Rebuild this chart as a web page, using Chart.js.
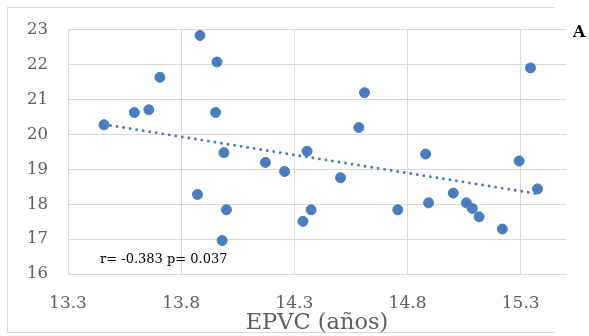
<!DOCTYPE html>
<html>
<head>
<meta charset="utf-8">
<script src="https://cdn.jsdelivr.net/npm/chart.js@4.4.0/dist/chart.umd.min.js"></script>
<style>
  html, body { margin: 0; padding: 0; background: #fff; }
  #wrap { position: relative; width: 589px; height: 336px; overflow: hidden; }
  #frame { position: absolute; left: 7px; top: 7px; width: 548px; height: 326px;
           border-top: 1px solid #d9d9d9; border-left: 1px solid #d9d9d9; border-bottom: 1px solid #d9d9d9;
           box-sizing: border-box; pointer-events: none; }
  canvas { position: absolute; left: 0; top: 0; }
</style>
</head>
<body>
<div id="wrap">
  <div id="frame"></div>
  <canvas id="c" width="589" height="336"></canvas>
</div>
<script>
// Data
const epvc = [13.459, 13.593, 13.657, 13.706, 13.883, 13.958, 13.952, 13.989, 14.172, 14.257,
              13.872, 14.000, 13.981, 14.338, 14.374, 14.504, 14.757, 14.893, 15.002, 15.060,
              15.086, 15.116, 15.219, 15.374, 15.293, 14.356, 14.610, 14.585, 14.880, 15.343];
const yVals = [20.28, 20.63, 20.71, 21.64, 22.84, 22.08, 20.63, 19.48, 19.20, 18.94,
               18.28, 17.84, 16.96, 17.51, 17.84, 18.76, 17.84, 18.04, 18.32, 18.04,
               17.88, 17.64, 17.29, 18.44, 19.24, 19.52, 21.20, 20.20, 19.44, 21.91];
const trendX = [13.459, 15.374];
const trendY = [20.29, 18.30];
const xTicks = [13.3, 13.8, 14.3, 14.8, 15.3];
const yTicks = [16, 17, 18, 19, 20, 21, 22, 23];
const xTitle = 'EPVC (años)';
const statText = 'r= -0.383 p= 0.037';
const panelLabel = 'A';

const pts = epvc.map((x, i) => ({ x: x, y: yVals[i] }));
const trend = trendX.map((x, i) => ({ x: x, y: trendY[i] }));

const textPlugin = {
  id: 'texts',
  afterDraw(chart) {
    const ctx = chart.ctx;
    ctx.save();
    ctx.fillStyle = '#000';
    ctx.textBaseline = 'alphabetic';
    ctx.textAlign = 'left';
    ctx.font = '13px "DejaVu Serif"';
    ctx.fillText(statText, 100, 263);
    ctx.font = 'bold 16px "DejaVu Serif"';
    ctx.fillText(panelLabel, 573, 37);
    ctx.restore();
  }
};

new Chart(document.getElementById('c'), {
  type: 'scatter',
  data: {
    datasets: [
      {
        type: 'line',
        data: trend,
        showLine: true,
        borderColor: '#4a7dbf',
        borderWidth: 2.9,
        borderDash: [0.01, 6.6],
        borderCapStyle: 'round',
        pointRadius: 0,
        fill: false,
        order: 1
      },
      {
        data: pts,
        backgroundColor: '#4a7dbf',
        borderColor: '#4a7dbf',
        pointRadius: 5,
        pointHoverRadius: 5,
        order: 0
      }
    ]
  },
  options: {
    responsive: false,
    animation: false,
    events: [],
    layout: { padding: { top: 29, right: 23, left: 0, bottom: 0 } },
    plugins: { legend: { display: false }, tooltip: { enabled: false } },
    scales: {
      x: {
        type: 'linear',
        min: 13.3,
        max: 15.5,
        afterBuildTicks(scale) { scale.ticks = xTicks.map(v => ({ value: v })); },
        afterFit(scale) { scale.height = 62; },
        grid: { color: '#d9d9d9', lineWidth: 1, drawTicks: false },
        border: { color: '#d9d9d9', width: 1 },
        ticks: {
          padding: 19,
          color: '#5f5f5f',
          font: { family: 'DejaVu Serif', size: 17 },
          callback: v => v.toFixed(1)
        },
        title: {
          display: true,
          text: xTitle,
          color: '#5f5f5f',
          font: { family: 'DejaVu Serif', size: 22.5 },
          padding: { top: 0, bottom: -1 }
        }
      },
      y: {
        type: 'linear',
        min: 16,
        max: 23,
        afterBuildTicks(scale) { scale.ticks = yTicks.map(v => ({ value: v })); },
        afterFit(scale) { scale.width = 68; },
        grid: { color: '#d9d9d9', lineWidth: 1, drawTicks: false },
        border: { color: '#d9d9d9', width: 1 },
        ticks: {
          padding: 20,
          color: '#5f5f5f',
          font: { family: 'DejaVu Serif', size: 16.5 }
        }
      }
    }
  },
  plugins: [textPlugin]
});
</script>
</body>
</html>
